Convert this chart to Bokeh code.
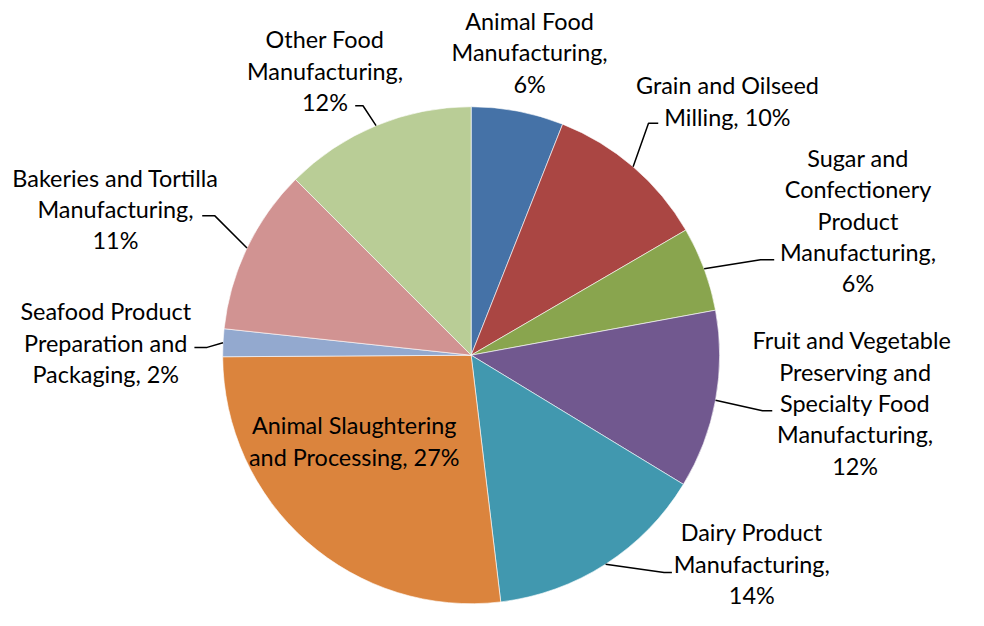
import math
from bokeh.plotting import figure
from bokeh.models import Range1d, ColumnDataSource
from bokeh.core.properties import value
from bokeh.embed import file_html
from bokeh.resources import INLINE

# ---- data ----
categories = [
    "Animal Food Manufacturing",
    "Grain and Oilseed Milling",
    "Sugar and Confectionery Product Manufacturing",
    "Fruit and Vegetable Preserving and Specialty Food Manufacturing",
    "Dairy Product Manufacturing",
    "Animal Slaughtering and Processing",
    "Seafood Product Preparation and Packaging",
    "Bakeries and Tortilla Manufacturing",
    "Other Food Manufacturing",
]
shares = [6.0, 10.6, 5.5, 11.6, 14.4, 26.8, 1.8, 10.8, 12.5]
label_texts = [
    "Animal Food\nManufacturing,\n6%",
    "Grain and Oilseed\nMilling, 10%",
    "Sugar and\nConfectionery\nProduct\nManufacturing,\n6%",
    "Fruit and  Vegetable\nPreserving and\nSpecialty Food\nManufacturing,\n12%",
    "Dairy Product\nManufacturing,\n14%",
    "Animal Slaughtering\nand Processing, 27%",
    "Seafood Product\nPreparation and\nPackaging, 2%",
    "Bakeries and Tortilla\nManufacturing,\n11%",
    "Other Food\nManufacturing,\n12%",
]
colors = ["#4572A7", "#AA4643", "#89A54E", "#71588F", "#4198AF",
          "#DB843D", "#93A9CF", "#D19392", "#B9CD96"]

# ---- layout (reference pixel coords; y converted to up-axis) ----
W, H = 968, 610
REF_H = 626
k = H / REF_H            # uniform scale so the 984x626 layout fits
def Y(py):
    return REF_H - py

cx, cy, R = 483, Y(364), 255
label_pos = [(543, 53), (746, 103), (880, 226), (877, 413), (771, 578),
             (363, 452), (108, 351), (118, 214), (333, 72)]
leaders = [None,
           ((665, 126), (675, 126)),
           ((780, 266), (794, 266)),
           ((782, 421), (792, 421)),
           ((681, 587), (689, 587)),
           None,
           ((212, 356), (199, 356)),
           ((220, 221), (207, 221)),
           ((372, 108), (364, 108))]

p = figure(width=W, height=H, output_backend="svg", toolbar_location=None,
           x_range=Range1d(0, W / k), y_range=Range1d(0, REF_H),
           min_border=0)
p.axis.visible = False
p.grid.visible = False
p.outline_line_color = None
p.background_fill_color = "white"

total = sum(shares)
starts, ends, mids = [], [], []
cum = 0.0
for s in shares:
    a0 = math.pi / 2 - 2 * math.pi * cum / total
    cum += s
    a1 = math.pi / 2 - 2 * math.pi * cum / total
    starts.append(a0)
    ends.append(a1)
    mids.append((a0 + a1) / 2)

src = ColumnDataSource(dict(x=[cx] * len(shares), y=[cy] * len(shares),
                            start=starts, end=ends, color=colors, cat=categories))
p.wedge(x="x", y="y", radius=R, start_angle="start", end_angle="end",
        direction="clock", fill_color="color", line_color="white",
        line_width=0.6, source=src)

for m, ld in zip(mids, leaders):
    if ld is None:
        continue
    ex = cx + R * math.cos(m)
    ey = cy + R * math.sin(m)
    (bx, by), (tx, ty) = ld
    p.line([ex, bx, tx], [ey, Y(by), Y(ty)], line_color="black", line_width=1.5)

lx = [q[0] for q in label_pos]
ly = [Y(q[1]) for q in label_pos]
p.text(x=lx, y=ly, text=label_texts, text_font=value("Lato"),
       text_font_size=f"{24 * k:.1f}px", text_align="center",
       text_baseline="middle", text_line_height=1.12, text_color="black")

open("out.html", "w").write(file_html(p, INLINE))
